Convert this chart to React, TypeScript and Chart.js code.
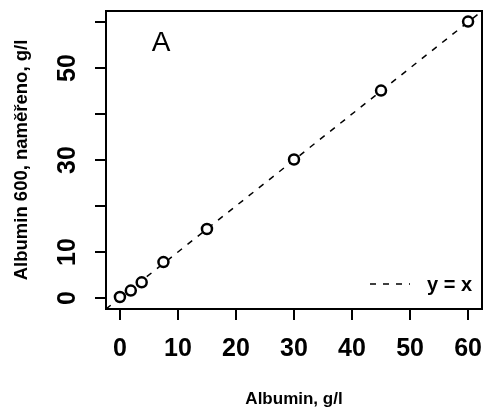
import React, { useEffect, useRef } from "react";
import { Chart, registerables } from "chart.js";

Chart.register(...registerables);

const reference = [0, 1.875, 3.75, 7.5, 15, 30, 45, 60];
const measured = [0.2, 1.6, 3.4, 7.8, 15.0, 30.1, 45.1, 60.1];
const tickValues = [0, 10, 20, 30, 40, 50, 60];
const xTickLabels = ["0", "10", "20", "30", "40", "50", "60"];
const yTickLabels = ["0", "10", "", "30", "", "50", ""];
const identityLine = [-2.4, 62.4];

const FONT = "'Liberation Sans', Arial, sans-serif";

const annotations = {
  id: "annotations",
  afterDatasetsDraw(chart: any) {
    const { ctx, chartArea } = chart;
    const { left, right, top, bottom } = chartArea;
    ctx.save();
    ctx.strokeStyle = "#000";
    ctx.lineWidth = 2;
    ctx.strokeRect(left, top, right - left, bottom - top);
    ctx.fillStyle = "#000";
    ctx.font = `28px ${FONT}`;
    ctx.textAlign = "center";
    ctx.textBaseline = "middle";
    ctx.fillText("A", left + 55, top + 32);
    ctx.setLineDash([6, 7]);
    ctx.lineWidth = 1.5;
    ctx.beginPath();
    ctx.moveTo(right - 112, bottom - 25);
    ctx.lineTo(right - 72, bottom - 25);
    ctx.stroke();
    ctx.setLineDash([]);
    ctx.font = `bold 20px ${FONT}`;
    ctx.textAlign = "left";
    ctx.textBaseline = "middle";
    ctx.fillText("y = x", right - 55, bottom - 24);
    ctx.restore();
  },
};

export default function App() {
  const ref = useRef<HTMLCanvasElement>(null);
  useEffect(() => {
    document.body.style.margin = "0";
    const canvas = ref.current!;
    const chart = new Chart(canvas, {
      type: "scatter",
      data: {
        datasets: [
          {
            type: "line",
            data: identityLine.map((v) => ({ x: v, y: v })),
            borderColor: "#000",
            borderWidth: 1.5,
            borderDash: [6, 7],
            pointRadius: 0,
            fill: false,
            order: 2,
          } as any,
          {
            data: reference.map((x, i) => ({ x, y: measured[i] })),
            pointRadius: 5,
            pointBorderWidth: 2.5,
            pointBorderColor: "#000",
            pointBackgroundColor: "#fff",
            borderColor: "#000",
            backgroundColor: "#fff",
            order: 1,
          },
        ],
      },
      options: {
        responsive: false,
        animation: false,
        layout: { autoPadding: false, padding: { top: 11, right: 2, left: 0, bottom: 0 } },
        plugins: { legend: { display: false }, tooltip: { enabled: false } },
        scales: {
          x: {
            type: "linear",
            min: -2.4,
            max: 62.4,
            afterBuildTicks: (s: any) => {
              s.ticks = tickValues.map((v) => ({ value: v }));
            },
            afterFit: (s: any) => {
              s.height = 103;
              s.paddingLeft = 0;
              s.paddingRight = 0;
            },
            grid: {
              drawOnChartArea: false,
              color: "#000",
              lineWidth: 2,
              tickLength: 11,
            },
            border: { display: true, color: "#000", width: 2 },
            ticks: {
              color: "#000",
              font: { family: FONT, size: 25, weight: "bold" },
              padding: 14,
              maxRotation: 0,
              autoSkip: false,
              callback: (v: any) => {
                const i = tickValues.indexOf(Number(v));
                return i >= 0 ? xTickLabels[i] : "";
              },
            },
            title: {
              display: true,
              text: "Albumin, g/l",
              color: "#000",
              font: { family: FONT, size: 17, weight: "bold" },
              padding: { top: 0, bottom: 2 },
            },
          },
          y: {
            type: "linear",
            min: -2.4,
            max: 62.4,
            afterBuildTicks: (s: any) => {
              s.ticks = tickValues.map((v) => ({ value: v }));
            },
            afterFit: (s: any) => {
              s.width = 106;
              s.paddingTop = 0;
              s.paddingBottom = 0;
            },
            grid: {
              drawOnChartArea: false,
              color: "#000",
              lineWidth: 2,
              tickLength: 11,
            },
            border: { display: true, color: "#000", width: 2 },
            ticks: {
              color: "#000",
              font: { family: FONT, size: 25, weight: "bold" },
              padding: 13,
              minRotation: 90,
              maxRotation: 90,
              crossAlign: "center",
              autoSkip: false,
              callback: (v: any) => {
                const i = tickValues.indexOf(Number(v));
                return i >= 0 ? yTickLabels[i] : "";
              },
            },
            title: {
              display: true,
              text: "Albumin 600, naměřeno, g/l",
              color: "#000",
              font: { family: FONT, size: 18.5, weight: "bold" },
              padding: { top: 11, bottom: 0 },
            },
          },
        },
      },
      plugins: [annotations],
    });
    return () => chart.destroy();
  }, []);
  return <canvas ref={ref} width={484} height={412} />;
}
